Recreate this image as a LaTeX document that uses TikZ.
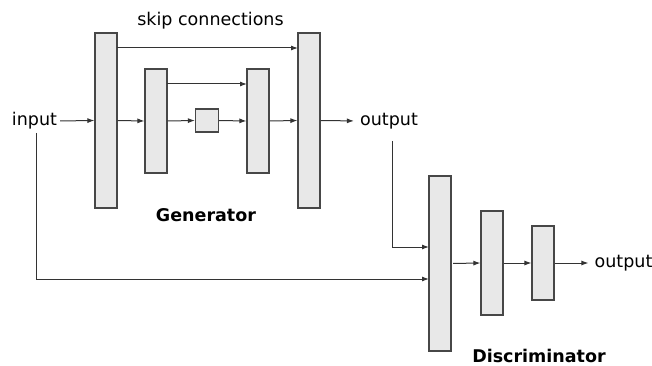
\documentclass[tikz,border=0pt]{standalone}
\usepackage{fontspec}
\setmainfont{DejaVu Sans}
\usetikzlibrary{arrows.meta,calc}
\definecolor{boxfill}{HTML}{E8E8E8}
\definecolor{linec}{HTML}{333333}
\definecolor{boxline}{HTML}{474747}
\begin{document}
\begin{tikzpicture}[x=1pt,y=-1pt,
  layer/.style={draw=boxline,line width=1.1pt,fill=boxfill,inner sep=0pt,minimum width=22pt},
  lbl/.style={inner sep=0pt,font=\fontsize{17.5}{20}\selectfont},
  title/.style={inner sep=0pt,font=\fontsize{17.5}{20}\selectfont\bfseries},
  arr/.style={draw=linec,line width=1pt,-{Latex[length=7pt,width=5pt]}},
  ln/.style={draw=linec,line width=1pt}]
\useasboundingbox (0,0) rectangle (652,366);
% generator
\node[layer,minimum height=175pt] (g1) at (106,120.5) {};
\node[layer,minimum height=104pt] (g2) at (156,121) {};
\node[layer,minimum height=23pt,minimum width=23pt] (g0) at (207,120.5) {};
\node[layer,minimum height=104pt] (g3) at (258,121) {};
\node[layer,minimum height=175pt] (g4) at (309,120.5) {};
% discriminator
\node[layer,minimum height=175pt] (d1) at (440,263.5) {};
\node[layer,minimum height=104pt] (d2) at (492,263) {};
\node[layer,minimum height=74pt] (d3) at (543,263) {};
% texts
\node[lbl] (in) at (34.5,121) {input};
\node[lbl] (gout) at (389,121) {output};
\node[lbl] (dout) at (623.5,263) {output};
\node[lbl] (skip) at (210.5,21) {skip connections};
\node[title] (gen) at (206,215) {Generator};
\node[title] (dis) at (539,356) {Discriminator};
% coordinates
\coordinate (a1) at (117,48);
\coordinate (a2) at (298,48);
\coordinate (b1) at (167,84);
\coordinate (b2) at (247,84);
\coordinate (c1) at (36,133);
\coordinate (c2) at (429,279);
\coordinate (e1) at (392,141);
\coordinate (e2) at (429,247);
% generator connections
\draw[arr,shorten <=3pt] (in.east) -- (g1.west);
\draw[arr] (g1.east) -- (g2.west);
\draw[arr] (g2.east) -- (g0.west);
\draw[arr] (g0.east) -- (g3.west);
\draw[arr] (g3.east) -- (g4.west);
\draw[arr,shorten >=6pt] (g4.east) -- (gout.west);
\draw[arr] (a1) -- (a2);
\draw[arr] (b1) -- (b2);
% to discriminator
\draw[arr] (c1) |- (c2);
\draw[arr] (e1) |- (e2);
\draw[arr,shorten <=1.5pt] (d1.east) -- (d2.west);
\draw[arr] (d2.east) -- (d3.west);
\draw[arr,shorten >=6pt] (d3.east) -- (dout.west);
\end{tikzpicture}
\end{document}
